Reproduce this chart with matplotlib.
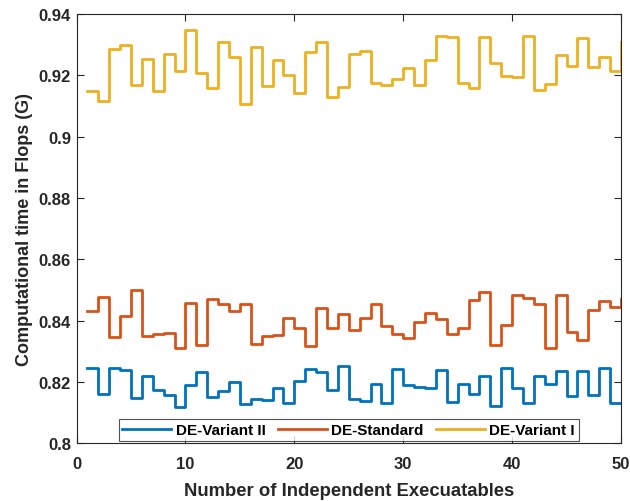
import numpy as np
import matplotlib
matplotlib.use("Agg")
import matplotlib.pyplot as plt

runs = np.arange(1, 51)

de_variant_2 = [0.8244, 0.8161, 0.8247, 0.8239, 0.8147, 0.8221, 0.8175, 0.8157, 0.8120, 0.8191,
                0.8232, 0.8150, 0.8172, 0.8199, 0.8128, 0.8144, 0.8142, 0.8179, 0.8133, 0.8204,
                0.8243, 0.8234, 0.8174, 0.8251, 0.8144, 0.8138, 0.8194, 0.8130, 0.8242, 0.8191,
                0.8185, 0.8179, 0.8238, 0.8136, 0.8194, 0.8161, 0.8219, 0.8123, 0.8247, 0.8181,
                0.8133, 0.8221, 0.8193, 0.8235, 0.8155, 0.8237, 0.8157, 0.8246, 0.8133, 0.8133]

de_standard = [0.8433, 0.8476, 0.8348, 0.8414, 0.8501, 0.8351, 0.8358, 0.8359, 0.8311, 0.8458,
               0.8322, 0.8469, 0.8454, 0.8430, 0.8454, 0.8324, 0.8351, 0.8354, 0.8409, 0.8377,
               0.8318, 0.8441, 0.8377, 0.8422, 0.8368, 0.8410, 0.8454, 0.8383, 0.8356, 0.8343,
               0.8395, 0.8425, 0.8404, 0.8356, 0.8376, 0.8467, 0.8495, 0.8321, 0.8387, 0.8485,
               0.8474, 0.8454, 0.8310, 0.8485, 0.8362, 0.8338, 0.8435, 0.8465, 0.8445, 0.8471]

de_variant_1 = [0.9149, 0.9115, 0.9285, 0.9300, 0.9169, 0.9253, 0.9148, 0.9269, 0.9213, 0.9349,
                0.9209, 0.9158, 0.9308, 0.9259, 0.9106, 0.9291, 0.9164, 0.9250, 0.9202, 0.9141,
                0.9277, 0.9310, 0.9128, 0.9162, 0.9268, 0.9279, 0.9175, 0.9169, 0.9187, 0.9223,
                0.9169, 0.9249, 0.9328, 0.9325, 0.9175, 0.9158, 0.9325, 0.9240, 0.9197, 0.9194,
                0.9328, 0.9151, 0.9173, 0.9265, 0.9232, 0.9321, 0.9227, 0.9260, 0.9215, 0.9308]

series_names = ["DE-Variant II", "DE-Standard", "DE-Variant I"]
colors = ["#0072BD", "#D95319", "#EDB120"]

plt.rcParams['font.family'] = ['Liberation Sans', 'DejaVu Sans']

fig = plt.figure(figsize=(6.3, 5.02), dpi=100)
ax = fig.add_axes([76.5/630, 1-444.3/502, (621-76.5)/630, (444.3-15)/502])

for y, name, c in zip([de_variant_2, de_standard, de_variant_1], series_names, colors):
    ax.step(runs, y, where='post', color=c, lw=2, label=name)

ax.set_xlim(0, 50)
ax.set_ylim(0.8, 0.94)
ax.set_xticks([0, 10, 20, 30, 40, 50])
ax.set_yticks([0.8, 0.82, 0.84, 0.86, 0.88, 0.9, 0.92, 0.94])
ax.set_yticklabels(["0.8", "0.82", "0.84", "0.86", "0.88", "0.9", "0.92", "0.94"])
ax.tick_params(direction='in', top=True, right=True, length=5, width=0.8,
               color='#262626', labelsize=12, labelcolor='#262626', pad=4)
ax.tick_params(axis='x', pad=9.5)
for lab in ax.get_xticklabels() + ax.get_yticklabels():
    lab.set_fontweight('bold')
for s in ax.spines.values():
    s.set_color('#262626')
    s.set_linewidth(0.8)

ax.set_xlabel("Number of Independent Execuatables", fontsize=13.3, fontweight='bold',
              color='#262626', labelpad=7.5)
ax.set_ylabel("Computational time in Flops (G)", fontsize=13, fontweight='bold', color='#262626')

leg = ax.legend(loc='lower center', ncol=3, prop={'weight': 'bold', 'size': 11},
                frameon=True, fancybox=False, edgecolor='#262626', handlelength=3.2,
                borderaxespad=0.15, columnspacing=0.8, handletextpad=0.3, borderpad=0.25)
leg.get_frame().set_linewidth(0.8)

fig.savefig("out.png", dpi=100)
